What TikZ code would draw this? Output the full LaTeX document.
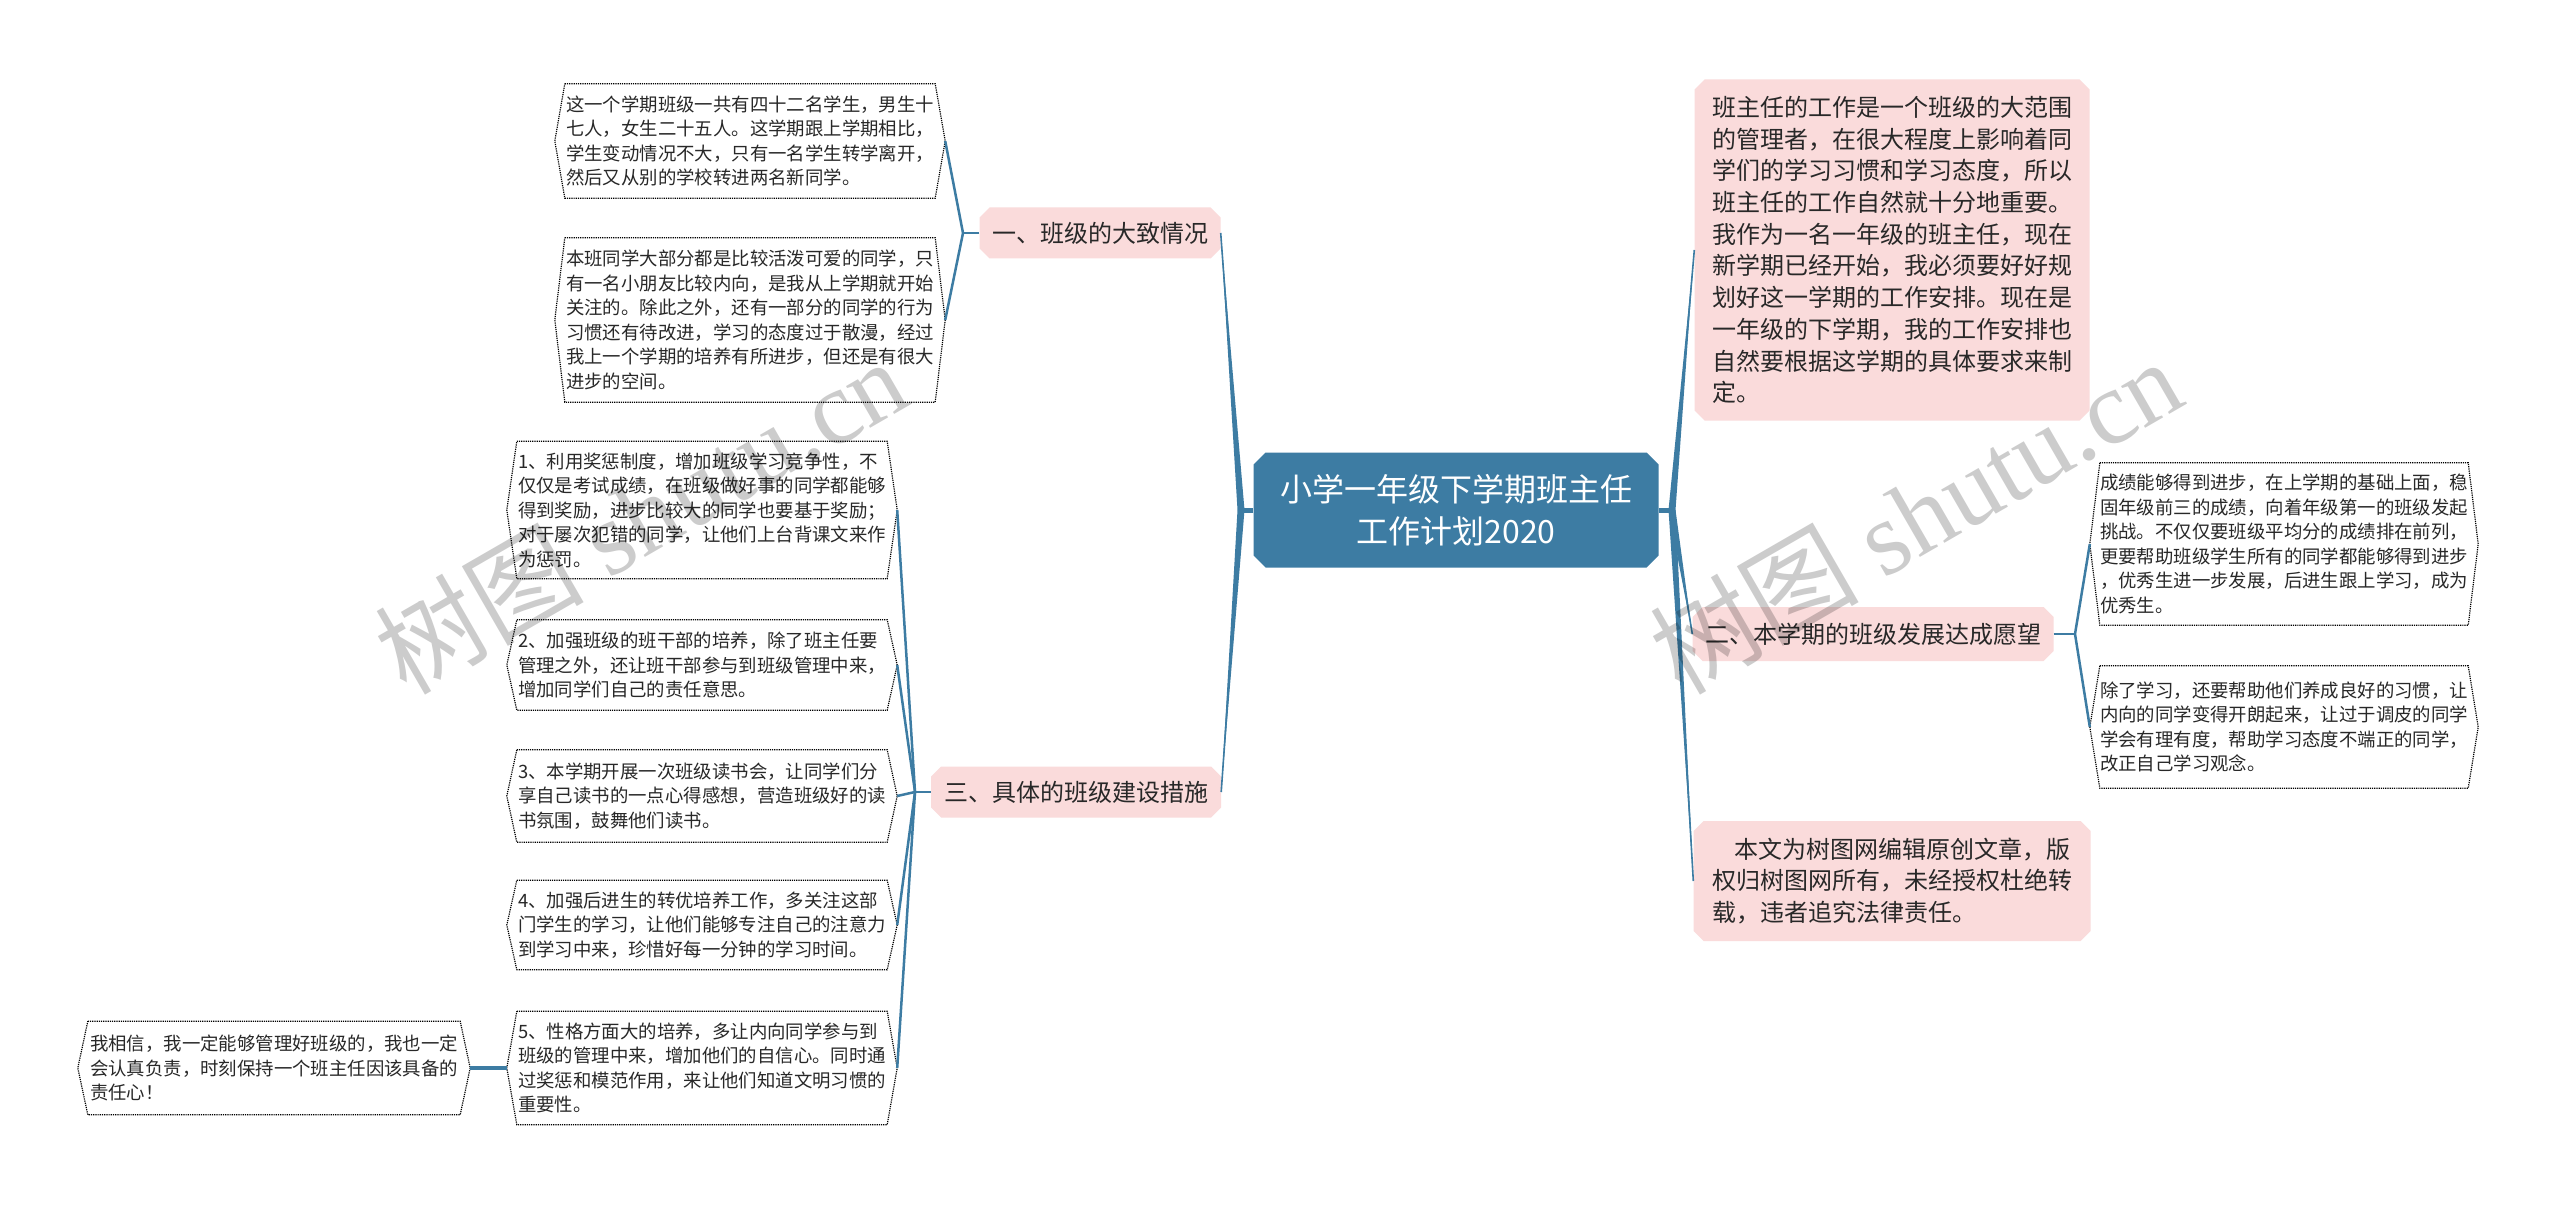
\documentclass[tikz,border=0pt]{standalone}
\usepackage{fontspec}
\setmainfont{Noto Sans CJK SC}
\newfontfamily\wmlatin{Liberation Serif}
\usetikzlibrary{shapes.misc,calc}
\definecolor{bluec}{RGB}{61,124,163}
\definecolor{pinkc}{RGB}{250,219,219}
\definecolor{txt}{RGB}{40,40,40}
\tikzset{
  central/.style={chamfered rectangle, chamfered rectangle xsep=6pt, chamfered rectangle ysep=6pt,
    fill=bluec, draw=none, text=white, align=center, inner sep=0pt,
    minimum width=405pt, minimum height=115pt, font=\fontsize{32}{42}\selectfont},
  branch/.style={chamfered rectangle, chamfered rectangle xsep=5pt, chamfered rectangle ysep=5pt,
    fill=pinkc, draw=none, text=txt, inner sep=0pt, minimum height=51pt,
    font=\fontsize{24}{30}\selectfont},
  bigpink/.style={branch, align=left, font=\fontsize{24}{31.7}\selectfont},
  leaf/.style={inner sep=0pt, align=left, text=txt, minimum width=370pt,
    font=\fontsize{18.4}{24.5}\selectfont},
  hexline/.style={draw=black, densely dotted, line width=1.2pt},
  conn/.style={draw=bluec, line width=2.5pt},
  taper/.style={fill=bluec},
  wm/.style={text=black, opacity=0.2, font=\fontsize{105}{105}\selectfont, inner sep=0pt}
}
\begin{document}
\begin{tikzpicture}[x=1pt,y=-1pt]
\useasboundingbox (0,0) rectangle (2560,1206);
\fill[white] (0,0) rectangle (2560,1206);

% central and branches
\node[central] (C) at (1456,510) {小学一年级下学期班主任\\工作计划2020};
\node[branch, minimum width=241pt] (B1) at (1100,233) {一、班级的大致情况};
\node[branch, minimum width=290pt] (B3) at (1076,792) {三、具体的班级建设措施};
\node[branch, minimum width=361pt, minimum height=54pt] (B2) at (1873,634) {二、本学期的班级发展达成愿望};
\node[bigpink, minimum width=395pt, minimum height=341pt] (R1) at (1892,250) {班主任的工作是一个班级的大范围\\的管理者，在很大程度上影响着同\\学们的学习习惯和学习态度，所以\\班主任的工作自然就十分地重要。\\我作为一名一年级的班主任，现在\\新学期已经开始，我必须要好好规\\划好这一学期的工作安排。现在是\\一年级的下学期，我的工作安排也\\自然要根据这学期的具体要求来制\\定。};
\node[bigpink, minimum width=397pt, minimum height=120pt] (R3) at (1892,881) {\hspace*{22pt}本文为树图网编辑原创文章，版\\权归树图网所有，未经授权杜绝转\\载，违者追究法律责任。};

% leaves
\node[leaf, minimum height=114pt] (L1a) at (750,141) {这一个学期班级一共有四十二名学生，男生十\\七人，女生二十五人。这学期跟上学期相比，\\学生变动情况不大，只有一名学生转学离开，\\然后又从别的学校转进两名新同学。};
\node[leaf, minimum height=164pt] (L1b) at (750,320) {本班同学大部分都是比较活泼可爱的同学，只\\有一名小朋友比较内向，是我从上学期就开始\\关注的。除此之外，还有一部分的同学的行为\\习惯还有待改进，学习的态度过于散漫，经过\\我上一个学期的培养有所进步，但还是有很大\\进步的空间。};
\node[leaf, minimum height=137pt] (L31) at (702,510) {1、利用奖惩制度，增加班级学习竞争性，不\\仅仅是考试成绩，在班级做好事的同学都能够\\得到奖励，进步比较大的同学也要基于奖励；\\对于屡次犯错的同学，让他们上台背课文来作\\为惩罚。};
\node[leaf, minimum height=90pt] (L32) at (702,665) {2、加强班级的班干部的培养，除了班主任要\\管理之外，还让班干部参与到班级管理中来，\\增加同学们自己的责任意思。};
\node[leaf, minimum height=92pt] (L33) at (702,796) {3、本学期开展一次班级读书会，让同学们分\\享自己读书的一点心得感想，营造班级好的读\\书氛围，鼓舞他们读书。};
\node[leaf, minimum height=89pt] (L34) at (702,925) {4、加强后进生的转优培养工作，多关注这部\\门学生的学习，让他们能够专注自己的注意力\\到学习中来，珍惜好每一分钟的学习时间。};
\node[leaf, minimum height=113pt] (L35) at (702,1068) {5、性格方面大的培养，多让内向同学参与到\\班级的管理中来，增加他们的自信心。同时通\\过奖惩和模范作用，来让他们知道文明习惯的\\重要性。};
\node[leaf, minimum height=93pt, minimum width=372pt] (L36) at (274,1068) {我相信，我一定能够管理好班级的，我也一定\\会认真负责，时刻保持一个班主任因该具备的\\责任心！};
\node[leaf, minimum height=162pt, minimum width=368pt] (L2a) at (2284,544) {成绩能够得到进步，在上学期的基础上面，稳\\固年级前三的成绩，向着年级第一的班级发起\\挑战。不仅仅要班级平均分的成绩排在前列，\\更要帮助班级学生所有的同学都能够得到进步\\，优秀生进一步发展，后进生跟上学习，成为\\优秀生。};
\node[leaf, minimum height=122pt, minimum width=368pt] (L2b) at (2284,727) {除了学习，还要帮助他们养成良好的习惯，让\\内向的同学变得开朗起来，让过于调皮的同学\\学会有理有度，帮助学习态度不端正的同学，\\改正自己学习观念。};

% dotted hexagon outlines and their side points
\foreach \n in {L1a,L1b,L31,L32,L33,L34,L35,L36,L2a,L2b}{
  \coordinate (\n-e) at ([xshift=10pt]\n.east);
  \coordinate (\n-w) at ([xshift=-10pt]\n.west);
  \draw[hexline] (\n.north west) -- (\n.north east) -- (\n-e) -- (\n.south east)
     -- (\n.south west) -- (\n-w) -- cycle;
}

% junctions
\coordinate (jl) at (1241,510);
\coordinate (jr) at (1672,510);
\coordinate (j1) at (963,233);
\coordinate (j3) at (915,792);
\coordinate (j2) at (2075,634);

% main connectors (tapered)
\draw[conn, line width=5pt] (C.west) -- (jl);
\draw[conn, line width=5pt] (C.east) -- (jr);
\foreach \t in {B1.east,B3.east}{
  \fill[taper] ($(jl)+(-3.5,0)$) -- (\t) -- ($(jl)+(3.5,0)$) -- cycle;
  \draw[conn, line width=1.6pt] (jl) -- (\t);
}
\foreach \t in {R1.west,B2.west,R3.west}{
  \fill[taper] ($(jr)+(-3.5,0)$) -- (\t) -- ($(jr)+(3.5,0)$) -- cycle;
  \draw[conn, line width=1.6pt] (jr) -- (\t);
}

% sub connectors
\draw[conn] (B1.west) -- (j1);
\draw[conn] (j1) -- (L1a-e);
\draw[conn] (j1) -- (L1b-e);
\draw[conn] (B3.west) -- (j3);
\foreach \n in {L31,L32,L33,L34,L35}{ \draw[conn] (j3) -- (\n-e); }
\draw[conn, line width=4pt] (L35-w) -- (L36-e);
\draw[conn] (B2.east) -- (j2);
\draw[conn] (j2) -- (L2a-w);
\draw[conn] (j2) -- (L2b-w);

% watermarks
\node[wm, rotate=30] (wm1) at (640,515) {树图 {\wmlatin shutu.cn}};
\node[wm, rotate=30] (wm2) at (1915,515) {树图 {\wmlatin shutu.cn}};
\end{tikzpicture}
\end{document}
